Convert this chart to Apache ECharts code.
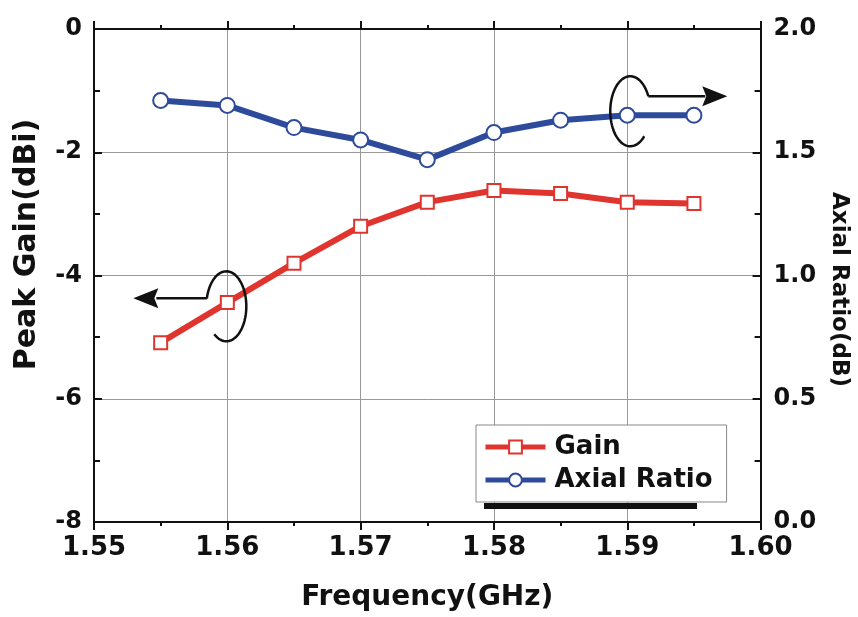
<!DOCTYPE html>
<html lang="en">
<head>
    <meta charset="UTF-8">
    <title>Gain and Axial Ratio</title>
    <style>
        html, body { margin: 0; padding: 0; background: #fff; }
        #main { width: 858px; height: 617px; }
    </style>
    <script src="https://cdn.jsdelivr.net/npm/echarts@6/dist/echarts.min.js"></script>
</head>
<body>
<div id="main"></div>
<script>
    // data
    var freq = [1.555, 1.56, 1.565, 1.57, 1.575, 1.58, 1.585, 1.59, 1.595];
    var gain = [-5.09, -4.44, -3.80, -3.20, -2.81, -2.62, -2.67, -2.81, -2.83];
    var axialRatio = [1.71, 1.69, 1.60, 1.55, 1.47, 1.58, 1.63, 1.65, 1.65];

    var FONT = 'DejaVu Sans';
    var RED = '#e0352f';
    var BLUE = '#2e4b9b';

    var chart = echarts.init(document.getElementById('main'));

    function pairs(xs, ys) {
        return xs.map(function (x, i) { return [x, ys[i]]; });
    }

    var axisLine = { show: true, lineStyle: { color: '#111', width: 2 } };

    var option = {
        backgroundColor: '#fff',
        animation: false,
        grid: { left: 94, right: 96, top: 29, bottom: 93 },
        legend: {
            orient: 'vertical',
            left: 476,
            top: 425,
            width: 252,
            padding: [9, 14, 9, 7],
            itemGap: 7,
            itemWidth: 60,
            itemHeight: 16,
            backgroundColor: '#fff',
            borderColor: '#888',
            borderWidth: 1,
            lineStyle: { width: 5 },
            textStyle: { fontFamily: FONT, fontWeight: 'bold', fontSize: 26, color: '#111', padding: [0, 0, 0, 4] },
            data: ['Gain', 'Axial Ratio']
        },
        xAxis: [{
            type: 'value',
            min: 1.55, max: 1.60, interval: 0.01,
            name: 'Frequency(GHz)',
            nameLocation: 'middle',
            nameGap: 62,
            nameTextStyle: { fontFamily: FONT, fontWeight: 'bold', fontSize: 28, color: '#111' },
            axisLine: axisLine,
            axisTick: { inside: true, length: 8, lineStyle: { color: '#111', width: 2 } },
            minorTick: { show: true, splitNumber: 2, length: 4, lineStyle: { color: '#111', width: 2 } },
            axisLabel: {
                margin: 13, fontFamily: FONT, fontWeight: 'bold', fontSize: 26, color: '#111',
                formatter: function (v) { return v.toFixed(2); }
            },
            splitLine: { show: true, lineStyle: { color: '#999', width: 1 } }
        }, {
            type: 'value', position: 'top',
            min: 1.55, max: 1.60, interval: 0.01,
            axisLine: axisLine,
            axisTick: { inside: true, length: 8, lineStyle: { color: '#111', width: 2 } },
            minorTick: { show: true, splitNumber: 2, length: 4, lineStyle: { color: '#111', width: 2 } },
            axisLabel: { show: false },
            splitLine: { show: false }
        }],
        yAxis: [{
            type: 'value',
            min: -8, max: 0, interval: 2,
            name: 'Peak Gain(dBi)',
            nameLocation: 'middle',
            nameGap: 52,
            nameTextStyle: { fontFamily: FONT, fontWeight: 'bold', fontSize: 30, color: '#111', padding: [0, 0, 0, 62] },
            axisLine: axisLine,
            axisTick: { inside: true, length: 8, lineStyle: { color: '#111', width: 2 } },
            minorTick: { show: true, splitNumber: 2, length: 6, lineStyle: { color: '#111', width: 2 } },
            axisLabel: { margin: 12, fontFamily: FONT, fontWeight: 'bold', fontSize: 24, color: '#111' },
            splitLine: { show: true, lineStyle: { color: '#999', width: 1 } }
        }, {
            type: 'value', position: 'right',
            min: 0, max: 2, interval: 0.5,
            name: 'Axial Ratio(dB)',
            nameLocation: 'middle',
            nameRotate: -90,
            nameGap: 64,
            nameTextStyle: { fontFamily: FONT, fontWeight: 'bold', fontSize: 23, color: '#111', padding: [0, 0, 0, 28] },
            axisLine: axisLine,
            axisTick: { inside: true, length: 8, lineStyle: { color: '#111', width: 2 } },
            minorTick: { show: true, splitNumber: 2, length: 6, lineStyle: { color: '#111', width: 2 } },
            axisLabel: {
                margin: 13, fontFamily: FONT, fontWeight: 'bold', fontSize: 24, color: '#111',
                formatter: function (v) { return v.toFixed(1); }
            },
            splitLine: { show: false }
        }],
        series: [{
            name: 'Gain',
            type: 'line',
            xAxisIndex: 0, yAxisIndex: 0,
            data: pairs(freq, gain),
            symbol: 'rect',
            symbolSize: 13,
            lineStyle: { color: RED, width: 6 },
            itemStyle: { color: '#fff', borderColor: RED, borderWidth: 2 },
            z: 3
        }, {
            name: 'Axial Ratio',
            type: 'line',
            xAxisIndex: 0, yAxisIndex: 1,
            data: pairs(freq, axialRatio),
            symbol: 'circle',
            symbolSize: 15,
            lineStyle: { color: BLUE, width: 6 },
            itemStyle: { color: '#fff', borderColor: BLUE, borderWidth: 2 },
            z: 3
        }]
    };

    chart.setOption(option);

    // arrow annotations anchored to data points
    var pl = chart.convertToPixel({ xAxisIndex: 0, yAxisIndex: 0 }, [1.56, -4.5]);
    var pr = chart.convertToPixel({ xAxisIndex: 0, yAxisIndex: 1 }, [1.59, 1.65]);
    var lx = pl[0] - 1, ly = pl[1];
    var rx = pr[0] + 3, ry = pr[1] - 4;
    var stroke = { stroke: '#111', lineWidth: 2.5, fill: null };

    // open ellipse outline from angle a0 to a1 (degrees, screen orientation)
    function ellipse(cx, cy, a0, a1) {
        var pts = [];
        var n = 60;
        for (var i = 0; i <= n; i++) {
            var t = (a0 + (a1 - a0) * i / n) * Math.PI / 180;
            pts.push([cx + 20 * Math.cos(t), cy + 35 * Math.sin(t)]);
        }
        return pts;
    }

    chart.setOption({
        graphic: [{
            type: 'polyline', z: 10,
            shape: { points: ellipse(lx, ly, 193, 487) },
            style: stroke
        }, {
            type: 'line', z: 10,
            shape: { x1: lx - 19.5, y1: ly - 8, x2: lx - 70, y2: ly - 8 },
            style: stroke
        }, {
            type: 'polygon', z: 10,
            shape: { points: [[lx - 93, ly - 8], [lx - 68, ly - 18], [lx - 72, ly - 8], [lx - 68, ly + 2]] },
            style: { fill: '#111' }
        }, {
            type: 'polyline', z: 10,
            shape: { points: ellipse(rx, ry, -25.5, -314.4) },
            style: stroke
        }, {
            type: 'line', z: 10,
            shape: { x1: rx + 18, y1: ry - 15, x2: rx + 75, y2: ry - 15 },
            style: stroke
        }, {
            type: 'polygon', z: 10,
            shape: { points: [[rx + 97, ry - 15], [rx + 72, ry - 25], [rx + 76, ry - 15], [rx + 72, ry - 5]] },
            style: { fill: '#111' }
        }, {
            // dark bar under the legend box
            type: 'rect', z: 10,
            shape: { x: 484, y: 503, width: 213, height: 6 },
            style: { fill: '#111' }
        }]
    });
</script>
</body>
</html>
